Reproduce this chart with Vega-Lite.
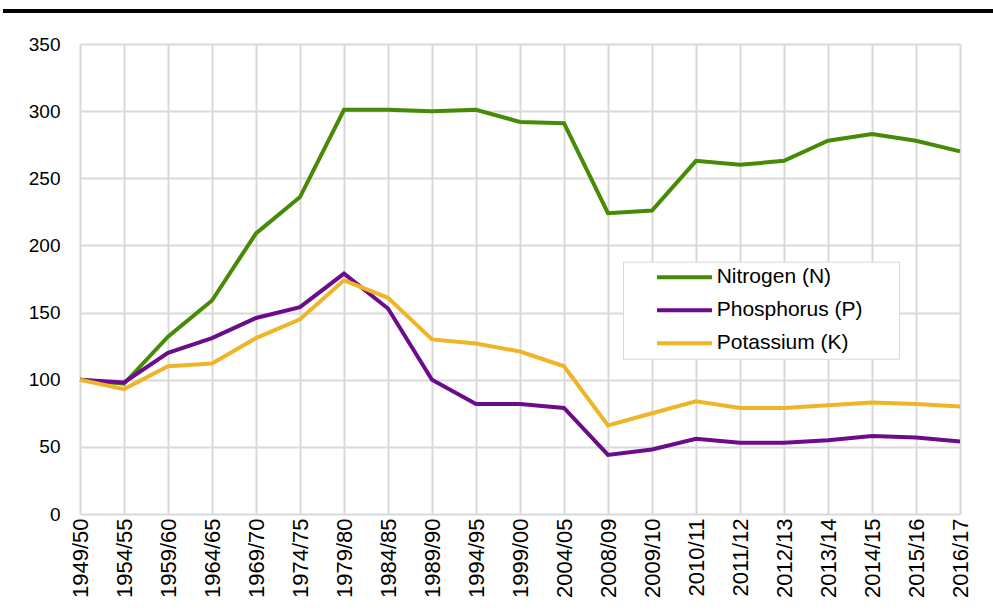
{
  "$schema": "https://vega.github.io/schema/vega-lite/v6.json",
  "width": 880,
  "height": 470,
  "autosize": {"type": "none"},
  "padding": {"left": 80, "top": 44, "right": 33, "bottom": 100},
  "background": "white",
  "config": {
    "font": "Liberation Sans",
    "view": {"stroke": null}
  },
  "data": {
    "values": [
      {"period": "1949/50", "N": 100, "P": 100, "K": 100},
      {"period": "1954/55", "N": 97, "P": 98, "K": 93},
      {"period": "1959/60", "N": 132, "P": 120, "K": 110},
      {"period": "1964/65", "N": 159, "P": 131, "K": 112},
      {"period": "1969/70", "N": 209, "P": 146, "K": 131},
      {"period": "1974/75", "N": 236, "P": 154, "K": 145},
      {"period": "1979/80", "N": 301, "P": 179, "K": 174},
      {"period": "1984/85", "N": 301, "P": 153, "K": 161},
      {"period": "1989/90", "N": 300, "P": 100, "K": 130},
      {"period": "1994/95", "N": 301, "P": 82, "K": 127},
      {"period": "1999/00", "N": 292, "P": 82, "K": 121},
      {"period": "2004/05", "N": 291, "P": 79, "K": 110},
      {"period": "2008/09", "N": 224, "P": 44, "K": 66},
      {"period": "2009/10", "N": 226, "P": 48, "K": 75},
      {"period": "2010/11", "N": 263, "P": 56, "K": 84},
      {"period": "2011/12", "N": 260, "P": 53, "K": 79},
      {"period": "2012/13", "N": 263, "P": 53, "K": 79},
      {"period": "2013/14", "N": 278, "P": 55, "K": 81},
      {"period": "2014/15", "N": 283, "P": 58, "K": 83},
      {"period": "2015/16", "N": 278, "P": 57, "K": 82},
      {"period": "2016/17", "N": 270, "P": 54, "K": 80}
    ]
  },
  "layer": [
    {
      "transform": [
        {"fold": ["N", "P", "K"], "as": ["key", "value"]},
        {"lookup": "key", "from": {"data": {"values": [
          {"key": "N", "nutrient": "Nitrogen (N)", "ord": 0},
          {"key": "P", "nutrient": "Phosphorus (P)", "ord": 1},
          {"key": "K", "nutrient": "Potassium (K)", "ord": 2}
        ]}, "key": "key", "fields": ["nutrient", "ord"]}}
      ],
      "mark": {"type": "line", "strokeWidth": 4, "strokeJoin": "miter"},
      "encoding": {
        "x": {
          "field": "period", "type": "ordinal", "sort": null,
          "scale": {"type": "point", "padding": 0},
          "axis": {
            "title": null, "labelAngle": -90, "labelFontSize": 22, "labelColor": "#000",
            "labelPadding": 4, "ticks": false, "domain": false,
            "grid": true, "gridColor": "#d9d9d9", "gridWidth": 2
          }
        },
        "y": {
          "field": "value", "type": "quantitative",
          "scale": {"domain": [0, 350], "nice": false},
          "axis": {
            "title": null, "values": [0, 50, 100, 150, 200, 250, 300, 350],
            "labelFontSize": 19, "labelColor": "#000", "labelPadding": 20,
            "ticks": false, "domain": false,
            "grid": true, "gridColor": "#d9d9d9", "gridWidth": 2
          }
        },
        "color": {
          "field": "nutrient", "type": "nominal",
          "sort": ["Nitrogen (N)", "Phosphorus (P)", "Potassium (K)"],
          "scale": {
            "domain": ["Nitrogen (N)", "Phosphorus (P)", "Potassium (K)"],
            "range": ["#468a06", "#6b0d8a", "#efb526"]
          },
          "legend": {
            "title": "\u00a0", "titleOrient": "right", "titleFontSize": 1, "titlePadding": 31,
            "orient": "none", "legendX": 543, "legendY": 217.7,
            "symbolType": "M-3.235,0H3.235", "symbolSize": 289, "symbolStrokeWidth": 4,
            "symbolOffset": 46,
            "labelFontSize": 21, "labelColor": "#000", "labelOffset": 21.7,
            "rowPadding": 11, "padding": 5,
            "strokeColor": "#d9d9d9", "fillColor": "white"
          }
        },
        "order": {"field": "ord"}
      }
    },
    {
      "mark": {"type": "rule", "color": "black", "strokeWidth": 3.5, "x": -77, "x2": 913, "clip": false},
      "encoding": {"y": {"datum": 374.8}}
    }
  ]
}
